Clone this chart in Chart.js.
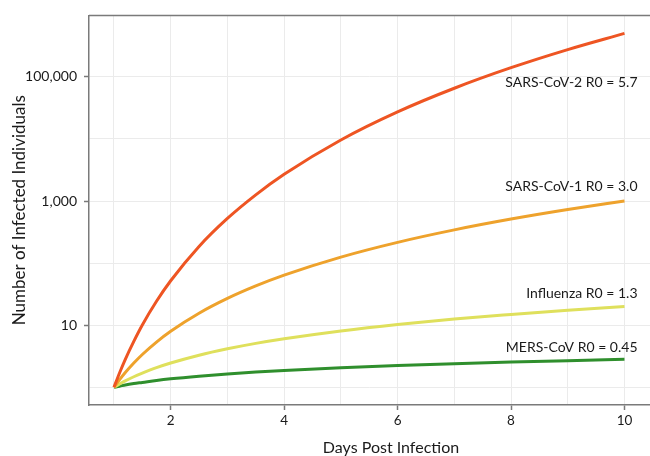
<!DOCTYPE html>
<html>
<head>
<meta charset="utf-8">
<script src="https://cdn.jsdelivr.net/npm/chart.js@4"></script>
<style>
  html, body { margin: 0; padding: 0; background: #fff; overflow: hidden; }
  #wrap { width: 650px; height: 456px; }
</style>
</head>
<body>
<div id="wrap"><canvas id="chart"></canvas></div>
<script>
// days since infection, and infected counts
const days = [1, 1.1, 1.2, 1.35, 1.5, 1.75, 2, 2.5, 3, 3.5, 4, 5, 6, 7, 8, 9, 10];
const sarsCov2 = [1, 1.72, 2.83, 5.5, 10.1, 24.3, 52, 186, 525, 1260, 2700, 9640, 27300, 65600, 140500, 275000, 501000];
const sarsCov1 = [1, 1.33, 1.73, 2.46, 3.38, 5.36, 8, 15.6, 27, 42.9, 64, 125, 216, 343, 512, 729, 1000];
const influenza = [1, 1.13, 1.27, 1.48, 1.69, 2.07, 2.46, 3.29, 4.17, 5.1, 6.06, 8.1, 10.3, 12.6, 14.9, 17.4, 20];
const mersCov = [1, 1.04, 1.09, 1.15, 1.2, 1.29, 1.37, 1.51, 1.64, 1.76, 1.87, 2.06, 2.24, 2.4, 2.55, 2.69, 2.82];

const seriesNames = ['SARS-CoV-2 R0 = 5.7', 'SARS-CoV-1 R0 = 3.0', 'Influenza R0 = 1.3', 'MERS-CoV R0 = 0.45'];
const xTicks = [1, 2, 3, 4, 5, 6, 7, 8, 9, 10];
const xLabelled = [2, 4, 6, 8, 10];
const yTicks = [1, 10, 100, 1000, 10000, 100000];
const yLabelled = [10, 1000, 100000];

const FONT = 'Lato, "Open Sans", sans-serif';
const AXIS_GREY = '#7a7a7a';

const toPoints = vals => vals.map((v, i) => ({ x: days[i], y: v }));

const line = (name, vals, color) => ({
  label: name,
  data: toPoints(vals),
  borderColor: color,
  borderWidth: 3,
  pointRadius: 0,
  cubicInterpolationMode: 'monotone',
  fill: false
});

// labels next to the lines, plus x title and top border
const extras = {
  id: 'extras',
  afterDatasetsDraw(chart) {
    const { ctx, chartArea, scales } = chart;
    ctx.save();
    ctx.strokeStyle = AXIS_GREY;
    ctx.lineWidth = 1.5;
    ctx.beginPath();
    ctx.moveTo(chartArea.left, chartArea.top);
    ctx.lineTo(chartArea.right, chartArea.top);
    ctx.stroke();

    const anchors = [84100, 1750, 33.2, 4.48];
    ctx.fillStyle = '#1a1a1a';
    ctx.font = '14px ' + FONT;
    ctx.textAlign = 'right';
    ctx.textBaseline = 'alphabetic';
    const xr = scales.x.getPixelForValue(10.23);
    seriesNames.forEach((name, i) => {
      ctx.fillText(name, xr, scales.y.getPixelForValue(anchors[i]) + 5);
    });

    ctx.font = '16px ' + FONT;
    ctx.textAlign = 'center';
    ctx.fillText('Days Post Infection', 391, 453);
    ctx.restore();
  }
};

new Chart(document.getElementById('chart'), {
  type: 'line',
  data: {
    datasets: [
      line(seriesNames[0], sarsCov2, '#ee5523'),
      line(seriesNames[1], sarsCov1, '#eea22c'),
      line(seriesNames[2], influenza, '#dfe05c'),
      line(seriesNames[3], mersCov, '#2f8f2d')
    ]
  },
  options: {
    responsive: true,
    maintainAspectRatio: false,
    devicePixelRatio: 1,
    animation: false,
    layout: { padding: { top: 14, left: 0, right: 0, bottom: 0 } },
    plugins: { legend: { display: false }, tooltip: { enabled: false } },
    scales: {
      x: {
        type: 'linear',
        min: 0.56,
        max: 10.45,
        afterBuildTicks: s => { s.ticks = xTicks.map(v => ({ value: v })); },
        afterFit: s => { s.height = 51; },
        grid: {
          color: '#ebebeb',
          lineWidth: 1,
          tickLength: 5,
          tickWidth: 1.5,
          tickColor: c => xLabelled.includes(c.tick && c.tick.value) ? AXIS_GREY : 'rgba(0,0,0,0)'
        },
        border: { color: AXIS_GREY, width: 1.5 },
        ticks: {
          autoSkip: false,
          maxRotation: 0,
          padding: 3,
          color: '#1a1a1a',
          font: { family: FONT, size: 13.5 },
          callback: v => xLabelled.includes(v) ? String(v) : ''
        }
      },
      y: {
        type: 'logarithmic',
        min: 0.519,
        max: 977000,
        afterBuildTicks: s => { s.ticks = yTicks.map(v => ({ value: v })); },
        afterFit: s => { s.width = 89; },
        grid: {
          color: '#ebebeb',
          lineWidth: 1,
          tickLength: 5,
          tickWidth: 1.5,
          tickColor: c => yLabelled.includes(c.tick && c.tick.value) ? AXIS_GREY : 'rgba(0,0,0,0)'
        },
        border: { color: AXIS_GREY, width: 1.5 },
        ticks: {
          autoSkip: false,
          padding: 7,
          color: '#1a1a1a',
          font: { family: FONT, size: 14 },
          callback: v => yLabelled.includes(v) ? v.toLocaleString('en-US') : ''
        },
        title: {
          display: true,
          text: 'Number of Infected Individuals',
          color: '#1a1a1a',
          font: { family: FONT, size: 17 },
          padding: { top: 9, bottom: 0 }
        }
      }
    }
  },
  plugins: [extras]
});
</script>
</body>
</html>
